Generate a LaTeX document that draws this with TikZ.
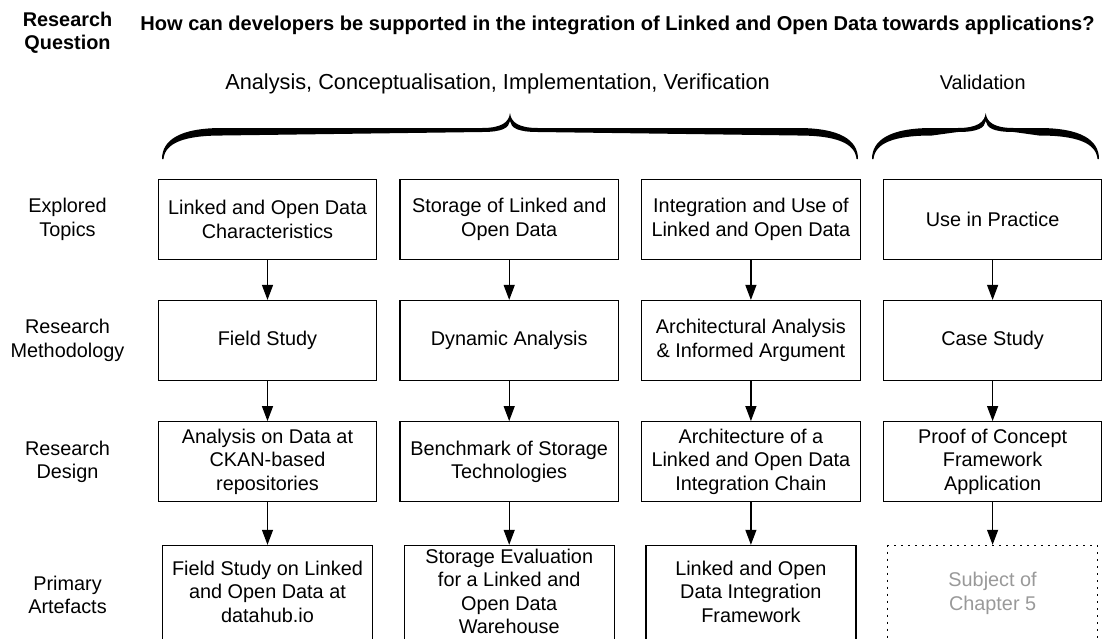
\documentclass[tikz,border=0pt]{standalone}
\usepackage{fontspec}
\setmainfont{Liberation Sans}
\usepackage{xcolor}
\usepackage{tikz}
\usetikzlibrary{positioning}
\usetikzlibrary{arrows.meta}

\definecolor{chaptergrey}{gray}{0.6}

\begin{document}
\begin{tikzpicture}[x=0.5pt, y=-0.5pt,
						node distance = 20pt and 11pt,
						every node/.style={font=\fontsize{9.93}{11.75}\selectfont, align=center},
						stagebox/.style={draw, line width=0.6pt, inner sep=0pt,
							minimum width=109.25pt, minimum height=40pt},
						artefact/.style={stagebox, minimum width=105pt, minimum height=49.5pt,
							text depth=3.5pt},
						>={Triangle[length=7.5pt, width=5.5pt]}]
		\useasboundingbox (0,0) rectangle (1103,638);
		\coordinate (labelcol) at (67.5,0);

		\node [font=\fontsize{9.93}{11.5}\selectfont\bfseries] (rq) at (67.5,33)
			{Research\\Question};
		\node [font=\fontsize{10.03}{11.75}\selectfont\bfseries, anchor=base west, inner sep=0pt]
			(question) at (140,30)
			{How can developers be supported in the integration of Linked and Open Data towards applications?};
		\node [font=\fontsize{10.86}{13}\selectfont, anchor=base] (phases) at (497.6,89)
			{Analysis, Conceptualisation, Implementation, Verification};
		\node [anchor=base] (validation) at (982.7,89) {Validation};

		% braces
		\foreach \l/\m/\r in {162/510/858, 872/985.7/1099} {
			\fill (\l,159) .. controls (\l,140) and ({\l+18},128) .. ({\l+60},128)
				-- ({\m-28},128) .. controls ({\m-8},128) and ({\m-1},122) .. (\m,113)
				.. controls ({\m+1},122) and ({\m+8},128) .. ({\m+28},128)
				-- ({\r-60},128) .. controls ({\r-18},128) and (\r,140) .. (\r,159)
				-- ({\r-1.5},159) .. controls ({\r-3},143) and ({\r-22},135.5) .. ({\r-60},135.5)
				-- ({\m+28},132) .. controls ({\m+8},132) and ({\m+1},128) .. (\m,121)
				.. controls ({\m-1},128) and ({\m-8},132) .. ({\m-28},132)
				-- ({\l+60},135.5) .. controls ({\l+22},135.5) and ({\l+3},143) .. ({\l+1.5},159)
				-- cycle;
		}

		\node [stagebox] (topicA) at (267.5,219.3) {Linked and Open Data\\Characteristics};
		\node [stagebox, right=of topicA] (topicB) {Storage of Linked and\\Open Data};
		\node [stagebox, right=of topicB] (topicC) {Integration and Use of\\Linked and Open Data};
		\node [stagebox, right=of topicC] (topicD) {Use in Practice};

		\node [stagebox, below=of topicA] (methodA) {Field Study};
		\node [stagebox, below=of topicB] (methodB) {Dynamic Analysis};
		\node [stagebox, below=of topicC] (methodC) {Architectural Analysis\\\& Informed Argument};
		\node [stagebox, below=of topicD] (methodD) {Case Study};

		\node [stagebox, below=of methodA] (designA) {Analysis on Data at\\CKAN-based\\repositories};
		\node [stagebox, below=of methodB] (designB) {Benchmark of Storage\\Technologies};
		\node [stagebox, below=of methodC] (designC) {Architecture of a\\Linked and Open Data\\Integration Chain};
		\node [stagebox, below=of methodD] (designD) {Proof of Concept\\Framework\\Application};

		\node [artefact, below=21.25pt of designA] (artefactA)
			{Field Study on Linked\\and Open Data at\\datahub.io};
		\node [artefact, below=21.25pt of designB] (artefactB)
			{Storage Evaluation\\for a Linked and\\Open Data\\Warehouse};
		\node [artefact, below=21.25pt of designC] (artefactC)
			{Linked and Open\\Data Integration\\Framework};
		\node [artefact, below=21.25pt of designD, dash pattern=on 1pt off 2.5pt,
				line width=0.7pt, text=chaptergrey] (artefactD) {Subject of\\Chapter 5};

		\node (lblTopics) at (labelcol |- topicA) {Explored\\Topics};
		\node (lblMethod) at (labelcol |- methodA) {Research\\Methodology};
		\node (lblDesign) at (labelcol |- designA) {Research\\Design};
		\node (lblArtefacts) at (labelcol |- artefactA) {Primary\\Artefacts};

		\path [->, line width=0.6pt]
			(topicA) edge [] (methodA)
			(topicB) edge [] (methodB)
			(topicC) edge [] (methodC)
			(topicD) edge [] (methodD)
			(methodA) edge [] (designA)
			(methodB) edge [] (designB)
			(methodC) edge [] (designC)
			(methodD) edge [] (designD)
			(designA) edge [] (artefactA)
			(designB) edge [] (artefactB)
			(designC) edge [] (artefactC)
			(designD) edge [] (artefactD);
	\end{tikzpicture}
\end{document}
